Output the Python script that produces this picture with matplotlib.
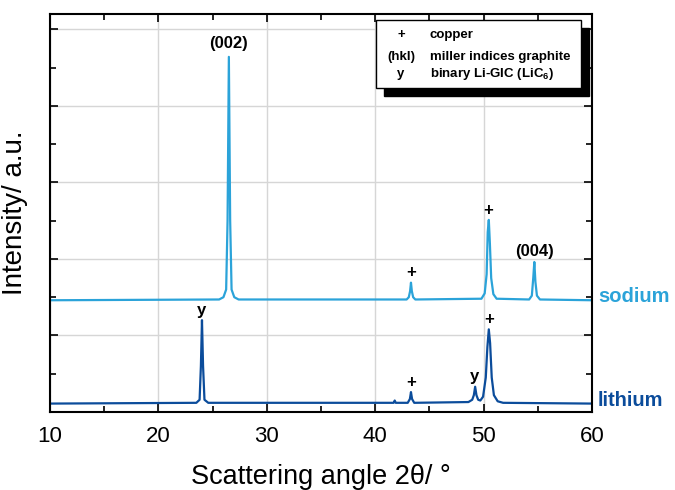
import matplotlib
matplotlib.use("Agg")
import matplotlib.pyplot as plt
from matplotlib.patches import Rectangle

plt.rcParams['font.family'] = ['Liberation Sans', 'DejaVu Sans']

# sodium pattern (2theta, intensity a.u.)
sodium_x = [10, 25.6, 26.0, 26.25, 26.38, 26.5, 26.62, 26.75, 27.0, 27.4,
            42.9, 43.1, 43.22, 43.3, 43.38, 43.5, 43.7,
            49.8, 50.1, 50.28, 50.38, 50.48, 50.58, 50.7, 50.9, 51.2,
            54.2, 54.45, 54.58, 54.68, 54.78, 54.92, 55.2, 60]
sodium_y = [1.46, 1.47, 1.5, 1.6, 2.5, 4.64, 2.5, 1.6, 1.5, 1.47,
            1.47, 1.5, 1.58, 1.69, 1.58, 1.5, 1.47,
            1.48, 1.55, 1.8, 2.35, 2.51, 2.2, 1.75, 1.54, 1.48,
            1.47, 1.52, 1.75, 1.96, 1.7, 1.52, 1.47, 1.46]

# lithium pattern
lithium_x = [10, 23.5, 23.8, 23.92, 24.02, 24.12, 24.25, 24.6,
             41.7, 41.8, 41.9, 43.0, 43.2, 43.3, 43.4, 43.6,
             48.6, 48.95, 49.1, 49.22, 49.34, 49.5, 49.7, 49.95, 50.2, 50.35, 50.48,
             50.6, 50.75, 50.95, 51.3, 51.8, 60]
lithium_y = [0.11, 0.12, 0.16, 0.6, 1.2, 0.6, 0.16, 0.12,
             0.12, 0.15, 0.12, 0.12, 0.17, 0.26, 0.17, 0.12,
             0.13, 0.16, 0.22, 0.33, 0.22, 0.16, 0.15, 0.2, 0.45, 0.85, 1.08,
             0.9, 0.45, 0.22, 0.14, 0.12, 0.11]

# peak annotations: (x, y, text)
sodium_marks = [(26.5, 4.72, '(002)'), (43.3, 1.72, '+'), (50.45, 2.54, '+'), (54.7, 2.0, '(004)')]
lithium_marks = [(24.0, 1.23, 'y'), (43.3, 0.29, '+'), (49.2, 0.36, 'y'), (50.5, 1.11, '+')]

legend_syms = ['+', '(hkl)', 'y']
legend_txt = ['copper', 'miller indices graphite', 'binary Li-GIC (LiC$_\\mathregular{6}$)']

c_na = '#2ba3d9'
c_li = '#0b4c9b'

W, H = 675, 490
fig = plt.figure(figsize=(6.75, 4.9), dpi=100)
ax = fig.add_axes([50/W, 1-412/H, (592-50)/W, (412-14)/H])

ax.plot(sodium_x, sodium_y, color=c_na, lw=1.6)
ax.plot(lithium_x, lithium_y, color=c_li, lw=1.6)

for x, y, t in sodium_marks + lithium_marks:
    ax.text(x, y, t, ha='center', va='bottom', fontsize=12, fontweight='bold')

ax.set_xlim(10, 60)
ax.set_ylim(0, 5.2)
ax.set_xticks([10, 20, 30, 40, 50, 60])
ax.set_xticks([15, 25, 35, 45, 55], minor=True)
ax.set_yticks([1, 2, 3, 4, 5])
ax.set_yticks([0.5, 1.5, 2.5, 3.5, 4.5], minor=True)
ax.set_yticklabels([])
ax.grid(True, color='#d6d6d6', lw=1.0)
ax.set_axisbelow(True)
ax.tick_params(which='both', direction='in', top=True, right=True, width=1.2)
ax.tick_params(which='major', length=6, labelsize=16, pad=10)
ax.tick_params(which='minor', length=4)
for s in ax.spines.values():
    s.set_linewidth(1.5)

ax.set_xlabel('Scattering angle 2θ/ °', fontsize=19.5, labelpad=12)
ax.set_ylabel('Intensity/ a.u.', fontsize=20, labelpad=6)

fig.text(598/W, 1-296/H, 'sodium', color=c_na, fontsize=14.5, fontweight='bold', va='center')
fig.text(598/W, 1-400/H, 'lithium', color=c_li, fontsize=14.5, fontweight='bold', va='center')

# legend box with shadow
bx0, by0, bx1, by1 = 376, 20, 581, 88
fig.patches.append(Rectangle(((bx0+8)/W, 1-(by1+8)/H), (bx1-bx0)/W, (by1-by0)/H,
                             transform=fig.transFigure, facecolor='black', edgecolor='black', zorder=5))
fig.patches.append(Rectangle((bx0/W, 1-by1/H), (bx1-bx0)/W, (by1-by0)/H,
                             transform=fig.transFigure, facecolor='white', edgecolor='black', lw=1.0, zorder=6))
rows_y = [35, 57, 74]
for sym, txt, ry in zip(legend_syms, legend_txt, rows_y):
    fig.text(401/W, 1-ry/H, sym, ha='center', va='center', fontsize=9.5, fontweight='bold', zorder=7)
    fig.text(430/W, 1-ry/H, txt, ha='left', va='center', fontsize=9.5, fontweight='bold', zorder=7)

fig.savefig('out.png', dpi=100)
